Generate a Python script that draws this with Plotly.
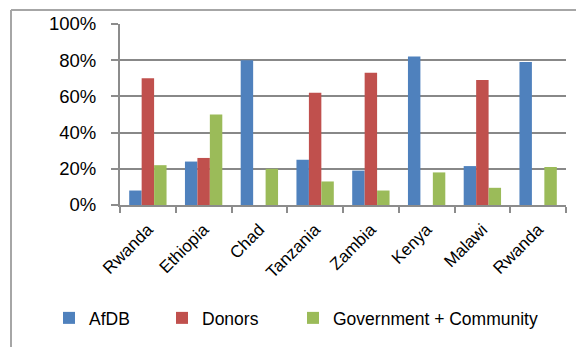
import plotly.graph_objects as go

categories = ["Rwanda", "Ethiopia", "Chad", "Tanzania", "Zambia", "Kenya", "Malawi", "Rwanda"]
afdb = [0.08, 0.24, 0.80, 0.25, 0.19, 0.82, 0.215, 0.79]
donors = [0.70, 0.26, 0.0, 0.62, 0.73, 0.0, 0.69, 0.0]
gov = [0.22, 0.50, 0.20, 0.13, 0.08, 0.18, 0.095, 0.21]
y_ticks = [0, 0.2, 0.4, 0.6, 0.8, 1.0]

W, H = 576, 347
L, R, T, B = 120, 10, 24, 142
pw, ph = W - L - R, H - T - B

def px_x(x):
    return (x - L) / pw

def px_y(y):
    return (H - B - y) / ph

xs = list(range(len(categories)))
font = "Liberation Sans, Arial, sans-serif"

fig = go.Figure()
series = [("AfDB", afdb, "#4F81BD", "legend"),
          ("Donors", donors, "#C0504D", "legend2"),
          ("Government + Community", gov, "#9BBB59", "legend3")]
for name, vals, col, lg in series:
    fig.add_trace(go.Bar(x=xs, y=vals, name=name, marker=dict(color=col, line=dict(width=0)),
                         legend=lg, showlegend=True))

leg_common = dict(orientation="h", yanchor="middle", xanchor="left",
                  font=dict(family=font, size=17.5, color="#000"),
                  bgcolor="rgba(0,0,0,0)", borderwidth=0, visible=True)
fig.update_layout(
    width=W, height=H,
    margin=dict(l=L, r=R, t=T, b=B),
    paper_bgcolor="white", plot_bgcolor="white",
    showlegend=True,
    barmode="group", bargap=0.33, bargroupgap=0,
    font=dict(family=font, color="#000"),
    legend=dict(x=px_x(49), y=px_y(318), **leg_common),
    legend2=dict(x=px_x(162), y=px_y(318), **leg_common),
    legend3=dict(x=px_x(293), y=px_y(318), **leg_common),
    xaxis=dict(
        range=[-0.5, len(categories) - 0.5],
        tickmode="array", tickvals=xs, ticktext=categories,
        tickangle=-45, ticks="", tickfont=dict(size=17, family=font, color="#000"),
        ticklabelstandoff=6,
        showline=True, linecolor="#8c8c8c", linewidth=2,
        showgrid=False, zeroline=False,
        minor=dict(tickmode="array", tickvals=[i - 0.5 for i in range(len(categories) + 1)],
                   ticks="outside", ticklen=6, tickcolor="#8c8c8c", tickwidth=2, showgrid=False),
    ),
    yaxis=dict(
        range=[0, 1], tickmode="array", tickvals=y_ticks, tickformat=".0%",
        ticks="outside", ticklen=7, tickcolor="#8c8c8c", tickwidth=2,
        tickfont=dict(size=18.5, family=font, color="#000"),
        ticklabelstandoff=11,
        showgrid=True, gridcolor="#888888", gridwidth=2,
        showline=True, linecolor="#8c8c8c", linewidth=2,
        zeroline=False,
    ),
    shapes=[
        dict(type="line", xref="paper", yref="paper", x0=px_x(11), x1=px_x(W + 5),
             y0=px_y(10), y1=px_y(10), line=dict(color="#a6a6a6", width=2)),
        dict(type="line", xref="paper", yref="paper", x0=px_x(11), x1=px_x(11),
             y0=px_y(10), y1=px_y(H + 5), line=dict(color="#a6a6a6", width=2)),
    ],
)

fig.write_html("out.html")
